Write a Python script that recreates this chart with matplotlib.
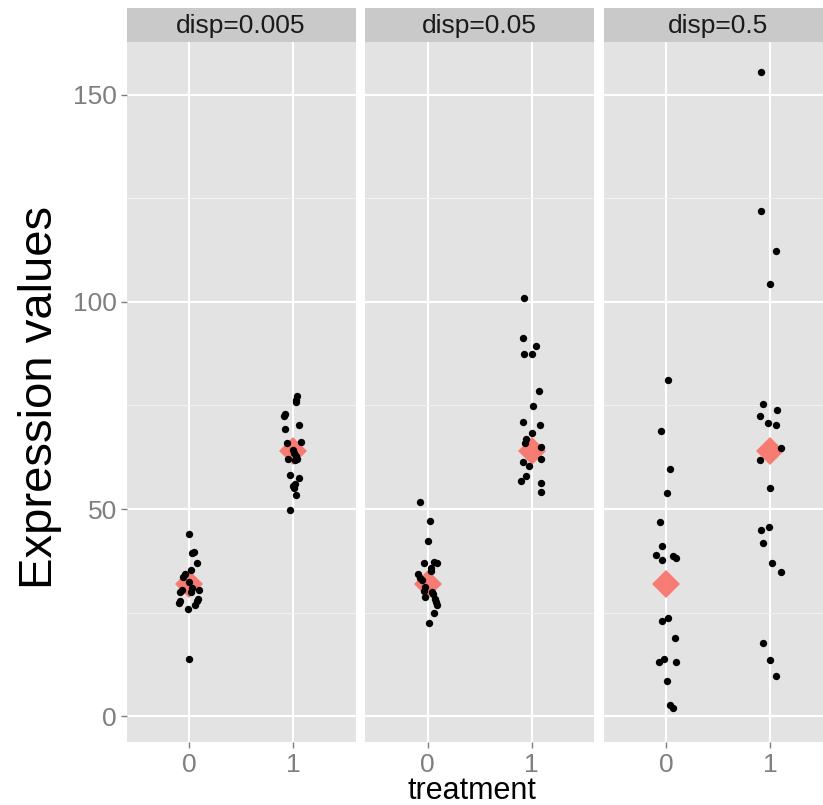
import matplotlib
matplotlib.use("Agg")
import matplotlib.pyplot as plt
import numpy as np

plt.rcParams["font.family"] = ["Liberation Sans", "DejaVu Sans"]

panel_titles = ["disp=0.005", "disp=0.05", "disp=0.5"]
treatment_labels = ["0", "1"]
group_means = [32, 64]

# jitter offsets (dx) and values, per panel and treatment
d005_t0_dx = [0.00, 0.03, 0.05, 0.08, 0.02, -0.04, -0.055, -0.07, -0.09, 0.02, 0.10, 0.09, 0.08, 0.06, -0.09, -0.10, -0.01, 0.00, 0.00, 0.03]
d005_t0_y = [44.1, 39.4, 39.7, 37.0, 35.3, 34.3, 33.7, 30.5, 30.1, 29.9, 30.4, 28.4, 27.9, 26.8, 27.8, 27.3, 26.0, 13.8, 32.5, 31.0]
d005_t1_dx = [0.04, 0.03, 0.025, -0.08, -0.09, 0.06, -0.08, 0.08, -0.06, -0.005, 0.01, 0.03, 0.035, 0.02, -0.05, -0.03, 0.06, 0.015, 0.00, 0.01, 0.03, -0.03]
d005_t1_y = [77.2, 76.4, 75.8, 73.0, 72.4, 70.3, 69.4, 66.2, 65.9, 64.2, 63.5, 62.7, 62.1, 61.8, 62.1, 58.3, 57.4, 56.0, 55.5, 55.1, 53.3, 49.8]

d05_t0_dx = [-0.07, 0.02, 0.00, -0.03, 0.06, 0.09, 0.03, 0.03, -0.09, -0.07, -0.05, -0.02, -0.03, 0.04, 0.05, -0.02, 0.07, 0.08, 0.09, 0.06, 0.015]
d05_t0_y = [51.8, 47.1, 42.2, 36.9, 37.2, 37.1, 35.7, 35.0, 34.4, 33.3, 32.8, 31.1, 30.3, 29.9, 29.6, 28.8, 28.3, 27.6, 26.8, 25.0, 22.5]
d05_t1_dx = [-0.07, -0.08, 0.04, -0.077, 0.00, 0.07, 0.01, -0.08, 0.08, 0.00, -0.05, -0.065, 0.09, 0.09, -0.08, -0.03, -0.05, -0.10, 0.09, 0.09]
d05_t1_y = [100.9, 91.2, 89.4, 87.4, 87.3, 78.4, 74.8, 71.0, 70.3, 68.4, 66.8, 66.0, 64.9, 62.0, 61.4, 60.4, 58.0, 56.8, 56.4, 54.2]

d5_t0_dx = [0.02, -0.05, 0.035, 0.01, -0.06, -0.035, -0.095, -0.04, 0.07, 0.10, -0.04, 0.02, 0.085, -0.07, -0.02, 0.10, 0.01, 0.04, 0.065]
d5_t0_y = [81.2, 68.8, 59.7, 54.0, 46.9, 41.2, 39.0, 37.8, 38.6, 38.3, 23.1, 23.6, 18.8, 13.0, 13.9, 13.1, 8.5, 2.7, 1.9]
d5_t1_dx = [-0.09, -0.085, 0.06, 0.00, -0.07, 0.065, -0.10, -0.02, 0.06, 0.10, -0.10, 0.00, -0.01, -0.09, -0.07, 0.02, 0.10, -0.07, 0.00, 0.055]
d5_t1_y = [155.5, 122.0, 112.2, 104.3, 75.4, 73.8, 72.5, 70.8, 70.2, 64.8, 61.8, 55.1, 45.7, 44.9, 41.7, 37.0, 34.7, 17.7, 13.7, 9.7]

panels = [
    [(d005_t0_dx, d005_t0_y), (d005_t1_dx, d005_t1_y)],
    [(d05_t0_dx, d05_t0_y), (d05_t1_dx, d05_t1_y)],
    [(d5_t0_dx, d5_t0_y), (d5_t1_dx, d5_t1_y)],
]

W, H = 823, 805
fig = plt.figure(figsize=(W / 100, H / 100), dpi=100)
fig.patch.set_facecolor("white")

tick_grey = "#7f7f7f"
panel_left0 = 126.6
panel_step = 238.5
panel_w = 229
panel_top, panel_bot = 42, 742
strip_top = 8

for i, (title, groups) in enumerate(zip(panel_titles, panels)):
    left = panel_left0 + i * panel_step
    ax = fig.add_axes([left / W, (H - panel_bot) / H, panel_w / W, (panel_bot - panel_top) / H])
    ax.set_facecolor("#e3e3e3")
    ax.set_xlim(-0.6, 1.6)
    ax.set_ylim(-6.2, 162.7)
    ax.set_yticks([0, 50, 100, 150])
    ax.set_yticks([25, 75, 125], minor=True)
    ax.set_xticks([0, 1])
    ax.set_xticklabels(treatment_labels)
    ax.grid(True, which="major", color="white", linewidth=1.5)
    ax.grid(True, which="minor", axis="y", color="#f0f0f0", linewidth=0.8)
    ax.set_axisbelow(True)
    for s in ax.spines.values():
        s.set_visible(False)
    ax.tick_params(axis="both", which="major", colors=tick_grey, labelsize=19, length=4, width=1, pad=3)
    ax.tick_params(axis="x", which="major", pad=4)
    ax.tick_params(axis="y", which="minor", length=0)
    if i > 0:
        ax.tick_params(axis="y", which="major", labelleft=False, length=0)

    for g, (dx, vals) in enumerate(groups):
        xs = g + np.asarray(dx)
        ax.scatter(xs, vals, s=28, color="black", zorder=3, linewidths=0)
        ax.plot([g], [group_means[g]], marker="D", markersize=14.5, color="#F8766D",
                markeredgewidth=0, alpha=0.95, zorder=2, linestyle="none")

    sax = fig.add_axes([left / W, (H - panel_top) / H, panel_w / W, (panel_top - strip_top) / H])
    sax.set_facecolor("#c9c9c9")
    sax.set_xticks([])
    sax.set_yticks([])
    for s in sax.spines.values():
        s.set_visible(False)
    sax.text(0.5, 0.47, title, ha="center", va="center", fontsize=19, color="#1a1a1a",
             transform=sax.transAxes)

fig.text(40 / W, 1 - 397 / H, "Expression values", rotation=90, ha="center", va="center",
         fontsize=34, color="black")
fig.text(472 / W, 1 - 791 / H, "treatment", ha="center", va="center", fontsize=22, color="black")

fig.savefig("out.png", dpi=100)
